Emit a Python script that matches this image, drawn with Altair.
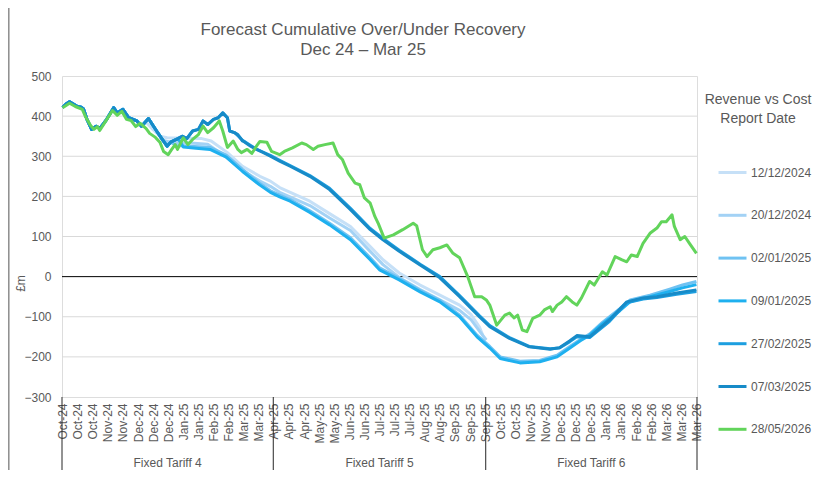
import altair as alt
import pandas as pd

# ---------------- data ----------------
series_names = ["12/12/2024", "20/12/2024", "02/01/2025", "09/01/2025",
                "27/02/2025", "07/03/2025", "28/05/2026"]
series_colors = ["#c6e0f7", "#a3d2f5", "#6fc2f2", "#1eb0ef",
                 "#1d9fe0", "#178bc8", "#62d45b"]
# day index (0 = 1 Oct 2024) of each report date for the blue forecasts
report_days = [72, 80, 93, 100, 149, 157]

# shared actuals in the blue forecasts
hist_day = [0, 3, 6, 11, 13, 16, 18, 21, 25, 29, 32, 38, 44, 47, 52, 57, 64, 68,
            74, 81, 85, 90, 93, 98, 103, 107, 112, 117, 121, 125, 130, 134, 138,
            142, 144, 148, 151, 155]
hist_val = [422, 430, 436, 427, 424, 422, 418, 392, 367, 375, 369, 392, 421, 408,
            417, 396, 388, 375, 394, 363, 346, 325, 335, 342, 350, 344, 363, 367,
            388, 379, 392, 396, 408, 396, 363, 359, 354, 338]

fc_1212_day = [72, 78, 84, 90, 105, 120, 128, 142, 155, 170, 179, 187, 213, 230,
               248, 265, 276, 290, 308, 325, 342, 352, 359, 362]
fc_1212_val = [385, 366, 350, 346, 345, 344, 338, 309, 275, 250, 238, 222, 188, 157,
               125, 75, 42, 9, -21, -46, -71, -95, -125, -146]

fc_2012_day = [80, 86, 95, 110, 125, 140, 155, 170, 179, 187, 213, 230, 248, 265,
               276, 290, 308, 325, 342, 352, 359, 365]
fc_2012_val = [366, 340, 334, 333, 330, 300, 265, 238, 225, 210, 177, 146, 115, 63,
               30, -2, -32, -58, -84, -108, -135, -158]

fc_0201_day = [93, 98, 110, 127, 141, 155, 170, 179, 187, 196, 213, 230, 248, 265,
               273, 290, 308, 325, 342, 357, 368, 377, 394, 411, 426, 437, 446, 454,
               465, 480, 489, 506, 523, 534, 546]
fc_0201_val = [335, 327, 325, 322, 303, 267, 232, 214, 203, 192, 164, 133, 97, 47,
               22, -4, -34, -59, -96, -146, -174, -200, -211, -209, -196, -174, -157,
               -143, -114, -80, -58, -46, -31, -21, -12]

fc_0901_day = [100, 104, 115, 127, 141, 155, 170, 179, 187, 196, 213, 230, 248, 265,
               273, 290, 308, 325, 342, 357, 368, 377, 394, 411, 426, 437, 446, 454,
               465, 480, 489, 506, 523, 534, 546]
fc_0901_val = [342, 323, 320, 317, 298, 262, 228, 210, 199, 188, 160, 129, 92, 42,
               17, -8, -38, -63, -100, -150, -178, -204, -215, -212, -200, -178, -160,
               -146, -118, -85, -62, -50, -37, -28, -20]

fc_2702_day = [149, 155, 162, 167, 173, 179, 187, 196, 213, 230, 248, 265, 276, 290,
               308, 325, 342, 359, 368, 385, 402, 420, 428, 437, 443, 454, 471, 486,
               500, 512, 529, 546]
fc_2702_val = [357, 340, 327, 318, 310, 302, 290, 277, 252, 220, 170, 120, 95, 66,
               31, 0, -47, -97, -122, -152, -174, -180, -178, -162, -150, -152, -112,
               -65, -56, -52, -44, -37]

fc_0703_day = [157, 162, 167, 173, 179, 187, 196, 213, 230, 248, 265, 276, 290, 308,
               325, 342, 359, 368, 385, 402, 420, 428, 437, 443, 454, 471, 486, 500,
               512, 529, 546]
fc_0703_val = [335, 325, 317, 309, 300, 288, 275, 250, 217, 167, 117, 92, 63, 29,
               -3, -50, -100, -125, -154, -175, -181, -177, -160, -147, -150, -108,
               -63, -53, -50, -41, -33]

green_day = [0, 6, 11, 17, 20, 24, 27, 30, 32, 37, 43, 47, 51, 55, 59, 63, 67, 72,
             75, 80, 84, 87, 91, 94, 97, 99, 104, 108, 112, 117, 121, 125, 130, 135,
             138, 142, 147, 151, 154, 159, 163, 167, 170, 176, 180, 187, 191, 198,
             206, 210, 216, 220, 226, 233, 237, 241, 246, 252, 256, 260, 265, 269,
             272, 277, 285, 293, 302, 305, 310, 314, 319, 325, 331, 336, 342, 349,
             355, 361, 365, 368, 374, 381, 385, 389, 392, 396, 400, 405, 411, 415,
             420, 422, 426, 430, 434, 439, 443, 447, 454, 458, 465, 469, 476, 482,
             486, 490, 495, 500, 506, 512, 516, 520, 525, 527, 532, 536, 540, 546]
green_val = [421, 432, 424, 417, 397, 377, 367, 374, 364, 387, 414, 402, 412, 392,
             389, 374, 382, 369, 357, 347, 334, 312, 304, 317, 329, 317, 346, 329,
             342, 354, 375, 359, 371, 388, 363, 322, 338, 317, 309, 317, 307, 325,
             337, 335, 312, 304, 312, 321, 333, 329, 317, 325, 329, 333, 304, 292,
             258, 233, 229, 196, 183, 150, 132, 96, 104, 117, 133, 127, 67, 50, 67,
             72, 79, 59, 47, 0, -50, -50, -58, -71, -121, -96, -91, -103, -96, -133,
             -137, -104, -96, -83, -75, -87, -71, -63, -50, -63, -71, -53, -12, -21,
             12, 4, 50, 42, 37, 54, 50, 83, 108, 121, 137, 137, 154, 125, 92, 100,
             83, 58]

forecasts = {
    "12/12/2024": (fc_1212_day, fc_1212_val),
    "20/12/2024": (fc_2012_day, fc_2012_val),
    "02/01/2025": (fc_0201_day, fc_0201_val),
    "09/01/2025": (fc_0901_day, fc_0901_val),
    "27/02/2025": (fc_2702_day, fc_2702_val),
    "07/03/2025": (fc_0703_day, fc_0703_val),
}

tick_days = list(range(0, 547, 13))
tick_labels = ["Oct-24", "Oct-24", "Oct-24", "Nov-24", "Nov-24", "Dec-24", "Dec-24",
               "Dec-24", "Jan-25", "Jan-25", "Feb-25", "Feb-25", "Mar-25", "Mar-25",
               "Apr-25", "Apr-25", "Apr-25", "May-25", "May-25", "Jun-25", "Jun-25",
               "Jul-25", "Jul-25", "Jul-25", "Aug-25", "Aug-25", "Sep-25", "Sep-25",
               "Sep-25", "Oct-25", "Oct-25", "Nov-25", "Nov-25", "Dec-25", "Dec-25",
               "Dec-25", "Jan-26", "Jan-26", "Feb-26", "Feb-26", "Mar-26", "Mar-26",
               "Mar-26"]

group_names = ["Fixed Tariff 4", "Fixed Tariff 5", "Fixed Tariff 6"]
group_bounds = [-0.5, 181.5, 364.5, 546.5]
grid_values = [-200, -100, 100, 200, 300, 400]
y_ticks = [-300, -200, -100, 0, 100, 200, 300, 400, 500]

chart_title = "Forecast Cumulative Over/Under Recovery\nDec 24 \u2013 Mar 25"
legend_title = "Revenue vs Cost\nReport Date"

# ---------------- build tables ----------------
rows = []
for name, rd in zip(series_names[:6], report_days):
    hd = [d for d in hist_day if d < rd]
    hv = hist_val[:len(hd)]
    fd, fv = forecasts[name]
    for d, v in zip(hd + fd, hv + fv):
        rows.append({"series": name, "day": d, "value": v})
for d, v in zip(green_day, green_val):
    rows.append({"series": series_names[6], "day": d, "value": v})
df = pd.DataFrame(rows)

grid_df = pd.DataFrame({"value": grid_values})
zero_df = pd.DataFrame({"value": [0]})
sep_df = pd.DataFrame({"day": group_bounds})
grp_df = pd.DataFrame({
    "day": [(group_bounds[i] + group_bounds[i + 1]) / 2 for i in range(3)],
    "label": group_names,
})
lt_df = pd.DataFrame({"t": [legend_title]})
ct_df = pd.DataFrame({"t": [chart_title]})
border_df = pd.DataFrame({"b": [0]})

# ---------------- encodings ----------------
FONT = "Liberation Sans"
GREY = "#595959"
W, H = 635, 321

label_arr = "[" + ",".join("'" + s + "'" for s in tick_labels) + "]"
x_axis = alt.Axis(values=tick_days, labelExpr=label_arr + "[round(datum.value/13)]",
                  labelAngle=270, labelFontSize=12, labelColor=GREY, labelFont=FONT,
                  labelPadding=6, ticks=False, domain=False, grid=False,
                  labelOverlap=False, labelBound=False, labelFlush=False, title=None)
y_axis = alt.Axis(values=y_ticks, labelFontSize=12, labelColor=GREY, labelFont=FONT,
                  labelPadding=11, ticks=False, domain=False, grid=False,
                  title="\u00a3m", titleFont=FONT, titleFontSize=12,
                  titleFontWeight="normal", titleColor=GREY, titleX=-42, titleY=207,
                  titleAngle=270, titleBaseline="middle", titleAlign="center")
x_scale = alt.Scale(domain=[-0.5, 546.5], nice=False, zero=False)
y_scale = alt.Scale(domain=[-300, 500], nice=False, zero=False)

X = alt.X("day:Q", scale=x_scale, axis=x_axis)
Y = alt.Y("value:Q", scale=y_scale, axis=y_axis)

color = alt.Color(
    "series:N",
    scale=alt.Scale(domain=series_names, range=series_colors),
    legend=alt.Legend(title=None, orient="none", legendX=655, legendY=81,
                      symbolType="stroke", symbolSize=784, symbolStrokeWidth=3,
                      labelFontSize=12, labelColor=GREY, labelFont=FONT,
                      labelOffset=3, rowPadding=20.8, padding=0, columns=1),
)

grid = alt.Chart(grid_df).mark_rule(color="#d9d9d9", strokeWidth=1).encode(y=Y)
zero = alt.Chart(zero_df).mark_rule(color="#000000", strokeWidth=1).encode(y=Y)

lines = [
    alt.Chart(df).transform_filter(alt.datum.series == name)
    .mark_line(strokeWidth=3, strokeJoin="round")
    .encode(x=X, y=Y, color=color)
    for name in series_names
]

seps = alt.Chart(sep_df).mark_rule(color="#262626", strokeWidth=1).encode(
    x=X, y=alt.value(H), y2=alt.value(H + 75))
grp = alt.Chart(grp_df).mark_text(fontSize=12, font=FONT, color=GREY,
                                  baseline="middle", align="center").encode(
    x=X, y=alt.value(H + 66), text="label:N")
ltitle = alt.Chart(lt_df).mark_text(fontSize=14, font=FONT, color=GREY,
                                    align="center", baseline="middle", lineBreak="\n",
                                    lineHeight=19).encode(
    x=alt.value(696), y=alt.value(24), text="t:N")
ctitle = alt.Chart(ct_df).mark_text(fontSize=17, font=FONT, color=GREY,
                                    align="center", baseline="middle", lineBreak="\n",
                                    lineHeight=20).encode(
    x=alt.value(301), y=alt.value(-46), text="t:N")
border = alt.Chart(border_df).mark_rule(color="#8c8c8c", strokeWidth=1.5).encode(
    x=alt.value(-53.2), y=alt.value(-68), y2=alt.value(H + 73))

chart = alt.layer(grid, zero, *lines, seps, grp, ltitle, ctitle, border).properties(
    width=W, height=H,
    autosize=alt.AutoSizeParams(type="none"),
    padding={"left": 54, "top": 68, "right": 115, "bottom": 73},
).configure_view(stroke=None).configure(background="white")

chart.save("out.html", embed_options={"renderer": "svg", "actions": False})
